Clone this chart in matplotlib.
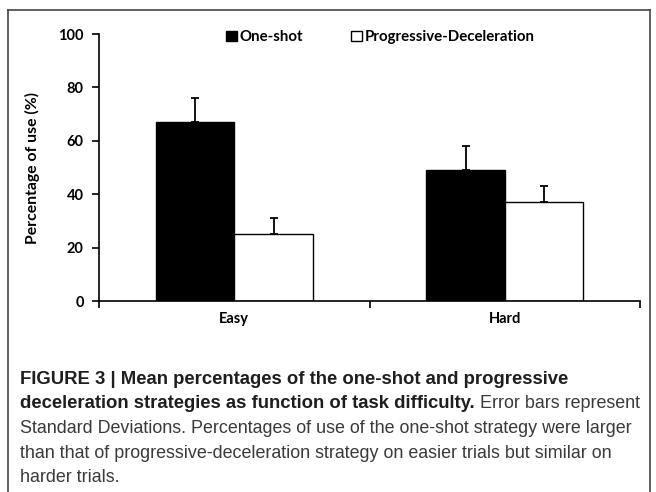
import numpy as np
import matplotlib.pyplot as plt

categories = ["Easy", "Hard"]
one_shot = [67, 49]
one_shot_sd = [9, 9]
progressive = [25, 37]
progressive_sd = [6, 6]
series_names = ["One-shot", "Progressive-Deceleration"]

chart_font = ["Lato", "DejaVu Sans"]
cap_font = ["Liberation Sans", "DejaVu Sans"]

fig = plt.figure(figsize=(6.56, 4.92), dpi=100)
ax = fig.add_axes([0.151, 0.388, 0.825, 0.5427])

x = np.array([0.5, 1.5])
w = 0.29
ax.bar(x - w / 2, one_shot, w, color="black", edgecolor="black", linewidth=1,
       label=series_names[0])
ax.bar(x + w / 2, progressive, w, color="white", edgecolor="black", linewidth=1,
       label=series_names[1])
ax.errorbar(x - w / 2, one_shot, yerr=[np.zeros(2), one_shot_sd], fmt="none",
            ecolor="black", elinewidth=1.3, capsize=3, capthick=1.3)
ax.errorbar(x + w / 2, progressive, yerr=[np.zeros(2), progressive_sd], fmt="none",
            ecolor="black", elinewidth=1.3, capsize=3, capthick=1.3)

ax.set_xlim(0, 2)
ax.set_ylim(0, 100)
ax.set_yticks([0, 20, 40, 60, 80, 100])
ax.set_xticks([0, 1, 2])
ax.set_xticklabels([])
ax.set_xticks(x, categories, minor=True)
ax.tick_params(axis="x", which="minor", length=0, pad=8)
ax.tick_params(axis="x", which="major", direction="out", length=5, width=1.2)
ax.tick_params(axis="y", direction="out", length=5, width=1.2, pad=6)
for lab in ax.get_yticklabels() + ax.get_xticklabels(minor=True):
    lab.set_fontfamily(chart_font)
    lab.set_fontweight("bold")
    lab.set_fontsize(10.5)
ax.spines["top"].set_visible(False)
ax.spines["right"].set_visible(False)
ax.spines["left"].set_linewidth(1.2)
ax.spines["bottom"].set_linewidth(1.2)
ax.set_ylabel("Percentage of use (%)", fontfamily=chart_font, fontweight="bold",
              fontsize=11.3, labelpad=13)

ax.legend(loc="center", bbox_to_anchor=(0.52, 0.989), ncol=2, frameon=False,
          handlelength=0.7, handleheight=0.7, handletextpad=0.2, columnspacing=3.2,
          borderpad=0, prop={"family": chart_font, "weight": "bold", "size": 10.8})

# frame around the figure (open at the bottom)
edge = "#444444"
fig.add_artist(plt.Line2D([8 / 656, 8 / 656], [-0.1, 1 - 10 / 492], color=edge, lw=1.2))
fig.add_artist(plt.Line2D([8 / 656, 650 / 656], [1 - 10 / 492, 1 - 10 / 492], color=edge, lw=1.2))
fig.add_artist(plt.Line2D([650 / 656, 650 / 656], [1 - 10 / 492, -0.1], color=edge, lw=1.2))

# caption
cap_lines = [
    [("FIGURE 3 | Mean percentages of the one-shot and progressive", "bold")],
    [("deceleration strategies as function of task difficulty.", "bold"),
     (" Error bars represent", "normal")],
    [("Standard Deviations. Percentages of use of the one-shot strategy were larger", "normal")],
    [("than that of progressive-deceleration strategy on easier trials but similar on", "normal")],
    [("harder trials.", "normal")],
]
r = fig.canvas.get_renderer()
for i, parts in enumerate(cap_lines):
    yy = 1 - (384 + i * 24.5) / 492
    xx = 20 / 656
    for txt, wt in parts:
        if wt == "bold":
            t = fig.text(xx, yy, txt, fontfamily=cap_font, fontweight="bold",
                         fontsize=13.3, color="#1e1e1e", va="baseline")
        else:
            t = fig.text(xx, yy, txt, fontfamily=cap_font, fontweight="normal",
                         fontsize=12.9, color="#3a3a3a", va="baseline")
        bb = t.get_window_extent(r)
        xx = bb.x1 / fig.bbox.width

fig.savefig("out.png", dpi=100)
